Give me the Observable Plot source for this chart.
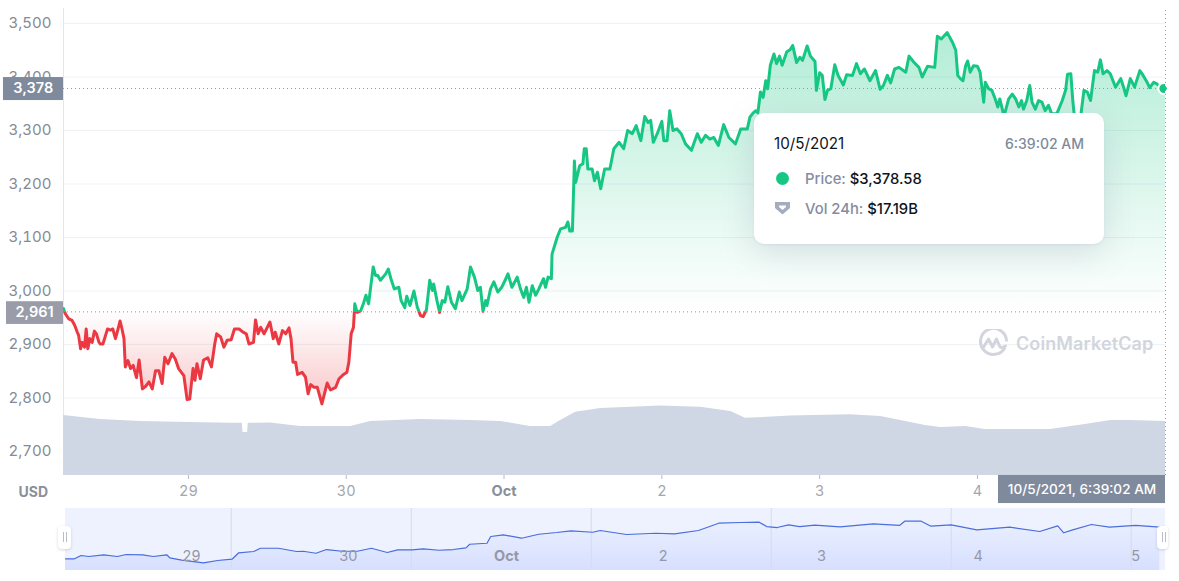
<!DOCTYPE html>
<html>
<head>
<meta charset="utf-8">
<script src="https://cdn.jsdelivr.net/npm/d3@7"></script>
<script src="https://cdn.jsdelivr.net/npm/@observablehq/plot@0.6"></script>
<style>
html,body{margin:0;padding:0;background:#fff;width:1179px;height:581px;overflow:hidden;font-family:Inter,"Noto Sans",sans-serif}
#chart{position:absolute;left:0;top:0}
#nav{position:absolute;left:0;top:505px}
svg{display:block}
.tooltip{position:absolute;left:754px;top:113px;width:350px;height:131px;background:#fff;border-radius:10px;box-shadow:0 1px 2px rgba(128,138,157,.12),0 8px 32px rgba(128,138,157,.24)}
.tooltip span{position:absolute;white-space:nowrap;line-height:18px}
.mark-logo{position:absolute;left:977px;top:329px}
.wm{position:absolute;left:1016px;top:333px;font-size:18px;font-weight:600;color:#d2d5dc;letter-spacing:.1px;line-height:22px}
.handle{position:absolute;width:13px;height:23px;top:526px;background:#fff;border-radius:4px;box-shadow:0 1px 3px rgba(90,100,130,.25)}
.handle i{position:absolute;top:6px;height:10px;width:1px;background:#b9bdc9}
</style>
</head>
<body>
<div id="chart"></div>
<div id="nav"></div>
<svg class="mark-logo" width="32" height="30" viewBox="0 0 32 30" fill="none" stroke="#d2d5dc" stroke-width="3">
<path d="M28 18.5a13 13 0 1 1 1.5-6"/>
<path d="M6 19l5.5-9 4 8 4-8 3 7c1 2 3 2 6 0" stroke-linejoin="round" stroke-linecap="round"/>
</svg>
<div class="wm">CoinMarketCap</div>
<div class="tooltip">
<span style="left:20px;top:22px;font-size:15.2px;color:#0d1421">10/5/2021</span>
<span style="right:20px;top:22px;font-size:14px;font-weight:500;color:#808a9d">6:39:02 AM</span>
<span style="left:22px;top:59px;width:13px;height:13px;border-radius:50%;background:#16c784"></span>
<span style="left:51px;top:57px;font-size:14.8px;font-weight:500;color:#858ca2">Price:&nbsp;<b style="font-weight:500;color:#0d1421">$3,378.58</b></span>
<svg style="position:absolute;left:21px;top:88px" width="16" height="14" viewBox="0 0 16 14"><path d="M0 1h15v6l-7.5 6.5L0 7z" fill="#a6abbd"/><path d="M4 4.5h7v1.5l-3.5 3L4 6z" fill="#fff"/></svg>
<span style="left:51px;top:87px;font-size:14.8px;font-weight:500;color:#858ca2">Vol 24h:&nbsp;<b style="font-weight:500;color:#0d1421">$17.19B</b></span>
</div>
<div class="handle" style="left:58px"><i style="left:5px"></i><i style="left:8px"></i></div>
<div class="handle" style="left:1157px;width:11px"><i style="left:5px"></i><i style="left:8px"></i></div>
<script>
// Price series: hours since the start of the window, USD
const priceHours = [0,.3,.8,1.3,1.7,2.1,2.3,2.6,2.84,3.2,3.45,3.7,4,4.36,4.7,5,5.4,5.6,6,6.4,6.7,7.15,7.5,7.9,8.3,8.6,8.9,9.2,9.4,9.8,10.2,10.6,11.1,11.5,12,12.5,13,13.5,14,14.5,15,15.4,15.9,16.5,17,17.5,18.3,18.8,19.2,19.7,20,20.3,20.8,21.3,21.95,22.5,23,23.3,23.9,24.4,24.9,25.5,26,26.7,27.3,27.8,28.2,28.9,29.2,29.6,30,30.5,31.4,31.9,32.2,32.75,33.3,33.8,34.3,34.6,34.9,35.3,35.6,36.3,36.8,37.2,37.6,38.1,38.6,39.3,40.1,40.6,41.4,41.9,42.6,43.1,43.4,43.75,44.1,44.3,
44.66,45.2,45.6,46,46.4,47.1,47.45,47.8,48.2,49,49.4,49.8,50.3,51,51.35,51.9,52.2,52.7,53.3,53.8,54.3,54.7,55.2,55.7,56.1,56.3,56.8,57.2,57.6,58,58.45,59,59.6,60.2,60.6,61.4,61.9,62.5,63,63.4,63.8,64.2,64.4,64.95,65.45,66.05,66.7,67.2,67.6,68.2,69,69.5,70,70.4,70.8,71.3,71.8,72.3,73,73.3,73.7,74.2,74.3,74.7,
75.1,75.6,76.35,76.7,77,77.4,77.7,77.9,78.5,79,79.2,79.5,79.75,80.4,80.76,81.2,81.7,82.3,83.1,83.7,84.5,85.2,85.8,86.5,87.1,87.8,88.4,88.9,89.3,89.7,90.3,91,91.3,91.8,92.2,92.7,93.3,93.95,94.6,95.5,96.4,97,97.65,98.3,98.9,99.6,100.4,101.2,102.2,103,104,104.4,
104.9,105.3,105.6,106,106.4,106.8,107.1,107.5,108.05,108.45,108.9,109.3,110,110.5,110.9,111.5,112,112.4,113.1,113.6,114.3,114.5,115,115.4,115.8,116.2,116.7,117.3,117.8,118.6,119.1,120,120.6,121.2,121.8,122.65,123.5,124.2,124.7,125.3,125.8,126.4,127.06,128.1,128.6,129.3,130.1,130.6,131.4,132.5,132.9,133.5,134.4,135.2,135.7,136,
136.4,136.8,137.2,137.5,137.9,138.4,139,139.4,139.95,140.2,140.7,141.2,141.7,142.1,142.4,142.9,143.2,143.75,144.3,144.8,145.3,145.7,146,146.5,146.95,147.3,147.8,148.3,148.8,149.3,149.8,150.3,151.1,151.9,152.4,152.7,153.2,153.5,153.9,154.2,154.75,155.2,155.7,156.2,156.8,157.3,157.7,158.1,158.7,159.2,160,160.3,160.8,161.3,161.6,162.25,162.9,163.7,164.2,164.8,165.2,165.8,166.3,166.8,167.3,167.6];
const priceValues = [2967,2957,2948,2945,2936,2923,2917,2892,2904,2895,2929,2892,2911,2904,2925,2920,2904,2901,2901,2917,2929,2927,2929,2911,2929,2944,2929,2911,2858,2870,2855,2861,2838,2871,2817,2822,2830,2817,2851,2851,2827,2876,2864,2883,2873,2855,2842,2797,2798,2855,2833,2864,2836,2871,2875,2858,2901,2920,2914,2895,2908,2909,2929,2929,2923,2920,2901,2904,2946,2920,2932,2920,2942,2911,2923,2901,2926,2920,2931,2911,2867,2867,2844,2848,2839,2808,2825,2820,2820,2789,2828,2815,2820,2836,2844,2848,2867,2920,2932,2976,
2960,2963,2976,2992,2976,3045,3029,3029,3020,3032,3041,3023,3004,3007,2982,2969,2990,2973,3000,2970,2954,2952,2965,3020,3001,3013,2982,2960,2982,2979,3008,2979,2967,2998,2982,3004,3045,3026,3001,3007,2962,2982,2973,3004,3017,2998,3008,3021,3032,3007,3026,3004,2988,3007,2979,3010,2992,3004,3023,3007,3026,3023,3069,3085,
3101,3116,3119,3129,3112,3112,3243,3203,3234,3238,3266,3266,3228,3228,3206,3222,3191,3228,3228,3266,3278,3266,3300,3294,3309,3281,3326,3315,3319,3278,3294,3317,3281,3281,3337,3300,3303,3294,3275,3263,3294,3278,3291,3284,3287,3272,3311,3287,3275,3303,3303,3325,
3333,3337,3333,3372,3362,3393,3378,3422,3443,3425,3439,3422,3447,3451,3459,3427,3437,3431,3458,3439,3429,3375,3408,3403,3358,3375,3378,3423,3403,3385,3404,3403,3425,3406,3415,3393,3412,3377,3384,3403,3389,3415,3418,3409,3439,3428,3418,3400,3420,3418,3476,3471,3483,3465,3450,3403,
3397,3393,3421,3430,3409,3421,3420,3409,3353,3390,3378,3375,3359,3344,3359,3334,3334,3359,3368,3359,3344,3356,3340,3356,3384,3353,3340,3356,3353,3337,3347,3331,3332,3356,3375,3405,3406,3356,3306,3288,3331,3375,3372,3356,3412,3409,3432,3406,3412,3406,3381,3387,3397,3378,3365,3397,3381,3412,3403,3390,3380,3390,3387,3381,3378,3378.58];

// Volume series: hours, USD billions
const volHours = [0,5.6,11.7,19.3,25.4,27.2,27.3,28,28.1,31.5,36,43.7,46.7,54.3,61.9,66.5,71,74.1,75.6,77.9,81.7,90.8,96.9,101.5,103.7,110.6,119.7,124.3,131.1,133.4,137.2,140.2,150.1,155.4,159.3,162.3,167.6];
const volValues = [19.1,17.8,17.2,16.9,16.6,16.6,13.7,13.7,16.6,16.7,15.6,15.6,17.2,17.8,17.5,17.2,15.6,15.6,17.5,20.1,21.3,22.1,21.7,20.4,18.2,18.9,19.3,18.8,15.9,15.3,15.6,14.6,14.6,16.2,17.5,17.5,17.19];

// Navigator series: hours on the navigator's own axis, USD
const navHours = [0,1.2,2.1,3.1,5.1,6.9,8.1,10.3,11.7,13.5,13.9,15.5,18.4,20.3,22.2,23.1,25.1,26,28.4,30.8,31.7,33.4,34.8,36.9,38.9,40.8,42.9,44.3,46.2,47.7,49.8,51.7,53.4,53.9,56.2,56.7,58.4,60.8,63.1,65.5,67.4,70.3,71.3,74.8,78.7,81.2,84.4,87.1,90,92.5,93.5,94.9,96.4,97.9,99.9,103.3,107.7,111.2,111.9,114.1,115.4,118.1,121.5,125.9,129.9,132.3,133.1,134.3,136.8,139.2,142.7,145.9];
const navValues = [2952,2952,2998,2984,3008,2984,3012,3008,2984,3008,2966,2932,2895,2928,2946,3036,3054,3100,3100,3054,3058,3030,3082,3058,3058,3100,3040,3078,3078,3092,3072,3082,3106,3156,3170,3265,3288,3241,3297,3321,3345,3325,3349,3293,3311,3303,3349,3452,3462,3466,3405,3391,3429,3405,3424,3401,3443,3420,3480,3480,3410,3429,3359,3396,3335,3415,3317,3359,3434,3396,3420,3396];

// Axis values and labels
const priceTicks = [2700,2800,2900,3000,3100,3200,3300,3400,3500];
const dayTicks = [19,43,91,115,139];
const dayLabels = ["29","30","2","3","4"];
const octTick = [67];
const navGrid = [22.1,46.1,70.1,94.1,118.1,142.1];
const navLabelHours = [16.8,37.7,79.7,100.8,121.7,142.7];
const navLabels = ["29","30","2","3","4","5"];
const navOctHour = [58.8];

const openPrice = 2961;
const lastPrice = 3378.58;
const lastHour = 167.6;
const volToPrice = v => 2655.2 + v * 5.87;

const GREEN = "#16c784", RED = "#ea3943", FONT = "Inter, 'Noto Sans', sans-serif";
const price = priceHours.map((h, i) => ({h, p: priceValues[i]}));
const vol = volHours.map((h, i) => ({h, v: volValues[i]}));
const navData = navHours.map((h, i) => ({h, p: navValues[i]}));

function stopsEl(id, y1, y2, stops) {
  const g = d3.create("svg:linearGradient").attr("id", id).attr("gradientUnits", "userSpaceOnUse")
    .attr("x1", 0).attr("x2", 0).attr("y1", y1).attr("y2", y2);
  for (const [o, c, a] of stops) g.append("stop").attr("offset", o).attr("stop-color", c).attr("stop-opacity", a);
  return g;
}
const gradients = (i, s) => {
  const defs = d3.create("svg:defs");
  const top = s.y(3500), bot = s.y(2780), t = (s.y(openPrice) - top) / (bot - top);
  defs.append(() => stopsEl("priceStroke", top, bot, [[t, GREEN, 1], [t, RED, 1]]).node());
  defs.append(() => stopsEl("priceFill", top, bot, [[0, GREEN, .34], [t, GREEN, 0], [t, RED, 0], [1, RED, .3]]).node());
  return defs.node();
};
const navGradient = (i, s) => {
  const defs = d3.create("svg:defs");
  defs.append(() => stopsEl("navFill", s.y(3480), s.y(2787.4), [[0, "#3861fb", .02], [1, "#3861fb", .13]]).node());
  return defs.node();
};

const chart = Plot.plot({
  width: 1179, height: 505,
  marginLeft: 63, marginRight: 14, marginTop: 8, marginBottom: 30,
  style: {background: "transparent", fontFamily: FONT, overflow: "visible"},
  x: {type: "linear", domain: [0, lastHour], range: [63, 1165]},
  y: {type: "linear", domain: [2700, 3500], range: [451, 23]},
  marks: [
    gradients,
    Plot.ruleY(priceTicks, {x1: 0, x2: lastHour, stroke: "#eff2f5", strokeWidth: 1}),
    Plot.ruleX([0], {y1: 2655.2, y2: 3528, stroke: "#e4e6ea"}),
    Plot.areaY(vol, {x: "h", y1: 2655.2, y2: d => volToPrice(d.v), fill: "#cfd6e4"}),
    Plot.areaY(price, {x: "h", y1: openPrice, y2: "p", fill: "url(#priceFill)"}),
    Plot.ruleY([lastPrice, openPrice], {x1: 0, x2: lastHour, stroke: "#8f95a3", strokeWidth: 1, strokeDasharray: "1,3"}),
    Plot.ruleX([lastHour], {y1: 2655.2, y2: 3528, stroke: "#8f95a3", strokeWidth: 1, strokeDasharray: "1,3"}),
    Plot.line(price, {x: "h", y: "p", stroke: "url(#priceStroke)", strokeWidth: 3, strokeLinejoin: "round"}),
    Plot.dot([{h: 167.35, p: lastPrice}], {x: "h", y: "p", r: 5.5, fill: GREEN, stroke: "#fff", strokeWidth: 2, clip: "frame"}),
    Plot.axisY(priceTicks, {anchor: "left", tickSize: 0, tickPadding: 12, fontSize: 15, fill: "#858a94", label: null, tickFormat: d3.format(",")}),
    Plot.axisX(dayTicks, {anchor: "bottom", tickSize: 4, tickPadding: 6, fontSize: 14.5, fill: "#a3a6af", stroke: "#b8bbc3", label: null, tickFormat: (d, i) => dayLabels[i]}),
    Plot.axisX(octTick, {anchor: "bottom", tickSize: 4, tickPadding: 6, fontSize: 14.5, fontWeight: 700, fill: "#8a8f99", stroke: "#b8bbc3", label: null, tickFormat: () => "Oct"}),
    Plot.text(["USD"], {x: -4.6, y: 2623, text: d => d, fontSize: 14, fontWeight: 700, fill: "#8a8f99"}),
    // value tags on the axes
    Plot.rect([0], {x1: -9.13, x2: 0, y1: 3356, y2: 3399, fill: "#808a9d"}),
    Plot.text(["3,378"], {x: -4.6, y: lastPrice, text: d => d, fontSize: 14.5, fontWeight: 600, fill: "#fff"}),
    Plot.rect([0], {x1: -8.67, x2: 0, y1: 2937.5, y2: 2980, fill: "#9a9da9"}),
    Plot.text(["2,961"], {x: -4.4, y: openPrice, text: d => d, fontSize: 14.5, fontWeight: 600, fill: "#fff"}),
    Plot.rect([0], {x1: 142.2, x2: lastHour, y1: 2602.7, y2: 2655.2, fill: "#808a9d"}),
    Plot.text(["10/5/2021, 6:39:02 AM"], {x: 154.9, y: 2628, text: d => d, fontSize: 13.6, fontWeight: 500, fill: "#fff"})
  ]
});
document.getElementById("chart").append(chart);

const nav = Plot.plot({
  width: 1179, height: 76,
  marginLeft: 65, marginRight: 14, marginTop: 3, marginBottom: 11,
  style: {background: "transparent", fontFamily: FONT, overflow: "visible"},
  x: {type: "linear", domain: [0, 146.67], range: [65, 1165], axis: null},
  y: {type: "linear", domain: [2787.4, 3658.4], range: [65, 3], axis: null},
  marks: [
    navGradient,
    Plot.rect([0], {x1: 0, x2: 146.67, y1: 2787.4, y2: 3658.4, fill: "#eef2ff"}),
    Plot.areaY(navData, {x: "h", y1: 2787.4, y2: "p", fill: "url(#navFill)"}),
    Plot.ruleX(navGrid, {y1: 2787.4, y2: 3658.4, stroke: "#d5dbee", strokeWidth: 1}),
    Plot.line(navData, {x: "h", y: "p", stroke: "#4a6edb", strokeWidth: 1.2}),
    Plot.text(navLabels, {x: (d, i) => navLabelHours[i], y: 2984, text: d => d, fontSize: 14.5, fill: "#9498a8"}),
    Plot.text(["Oct"], {x: navOctHour, y: 2984, text: d => d, fontSize: 14.5, fontWeight: 700, fill: "#9498a8"})
  ]
});
document.getElementById("nav").append(nav);
</script>
</body>
</html>
